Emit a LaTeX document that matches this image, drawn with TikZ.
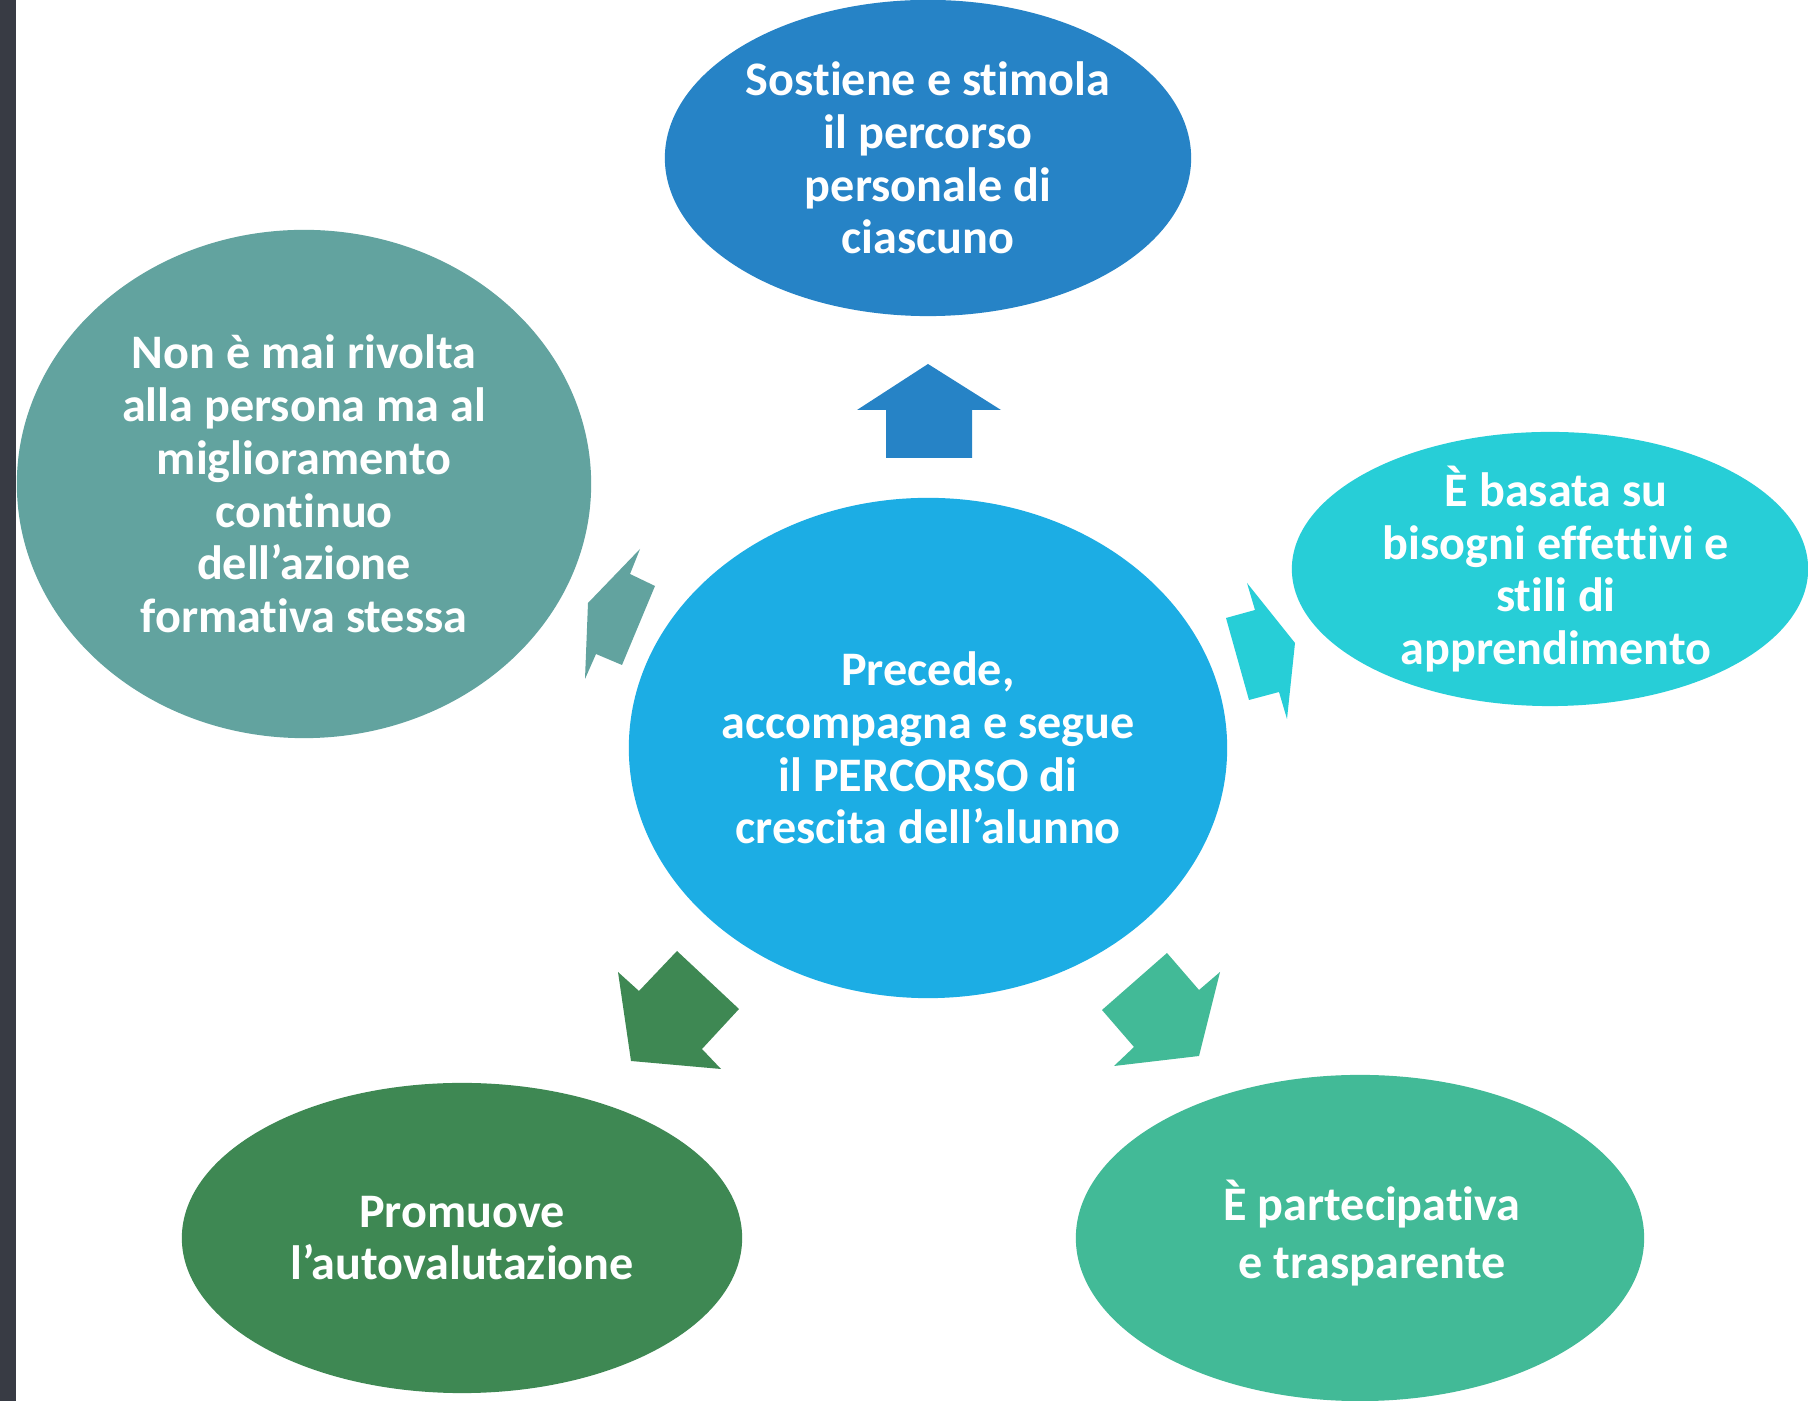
\documentclass[tikz,border=0pt]{standalone}
\usepackage{fontspec}
\setmainfont{Carlito}[Ligatures=NoCommon]
\usepackage{xcolor}
\usetikzlibrary{shapes.geometric}

\definecolor{azzurro}{HTML}{1CADE4}
\definecolor{blu}{HTML}{2683C6}
\definecolor{turchese}{HTML}{27CED7}
\definecolor{menta}{HTML}{42BA97}
\definecolor{verde}{HTML}{3E8853}
\definecolor{salvia}{HTML}{62A39F}
\definecolor{lavagna}{HTML}{383B44}

\begin{document}
\begin{tikzpicture}[x=0.01cm, y=-0.01cm,
  blob/.style={ellipse, inner sep=0pt, outer sep=0pt},
  testo/.style={text=white, align=center,
                font=\fontsize{13.7}{15}\selectfont\bfseries}]
\useasboundingbox (0,0) rectangle (1808,1401);
\clip (0,0) rectangle (1808,1401);
\fill[white] (0,0) rectangle (1808,1401);
\fill[lavagna] (0,0) rectangle (16,1401);
% ellissi
\node[blob, fill=azzurro, minimum width=5.98cm, minimum height=5.0cm] (centro) at (928,748) {};
\node[blob, fill=blu, minimum width=5.26cm, minimum height=3.16cm] (sost) at (928,158) {};
\node[blob, fill=salvia, minimum width=5.74cm, minimum height=5.08cm] (mai) at (304,484) {};
\node[blob, fill=turchese, minimum width=5.16cm, minimum height=2.74cm] (bisogni) at (1550,569) {};
\node[blob, fill=verde, minimum width=5.6cm, minimum height=3.1cm] (auto) at (462,1238) {};
\node[blob, fill=menta, minimum width=5.68cm, minimum height=3.26cm] (parte) at (1360,1238) {};
% testi
\node[testo] (centro-t) at (centro) {Precede,\\accompagna e segue\\il PERCORSO di\\crescita dell’alunno};
\node[testo] (sost-t) at (sost) {Sostiene e stimola\\il percorso\\personale di\\ciascuno};
\node[testo] (mai-t) at (mai) {Non è mai rivolta\\alla persona ma al\\miglioramento\\continuo\\dell’azione\\formativa stessa};
\node[testo] (bisogni-t) at ([xshift=0.06cm]bisogni) {È basata su\\bisogni effettivi e\\stili di\\apprendimento};
\node[testo] (auto-t) at (auto) {Promuove\\l’autovalutazione};
\node[testo, font=\fontsize{13.7}{16.5}\selectfont\bfseries] (parte-t) at ([xshift=0.12cm, yshift=0.05cm]parte) {È partecipativa\\e trasparente};
% frecce
\fill[blu] (928,364) -- (1001,410) -- (972,410) -- (972,458) -- (886,458) -- (886,410) -- (857,410) -- cycle;
\fill[salvia] (588,603) -- (640,549) -- (630,574) -- (655,586) -- (622,665) -- (596,654) -- (585,679) -- cycle;
\fill[turchese] (1295,643) -- (1287,719) -- (1279,692) -- (1249,700) -- (1226,618) -- (1255,610) -- (1247,583) -- cycle;
\fill[verde] (631,1061) -- (721,1069) -- (702,1049) -- (739,1009) -- (677,951) -- (639,991) -- (618,972) -- cycle;
\fill[menta] (1199,1056) -- (1220,972) -- (1199,990) -- (1167,953) -- (1102,1010) -- (1134,1047) -- (1114,1066) -- cycle;
\end{tikzpicture}
\end{document}
